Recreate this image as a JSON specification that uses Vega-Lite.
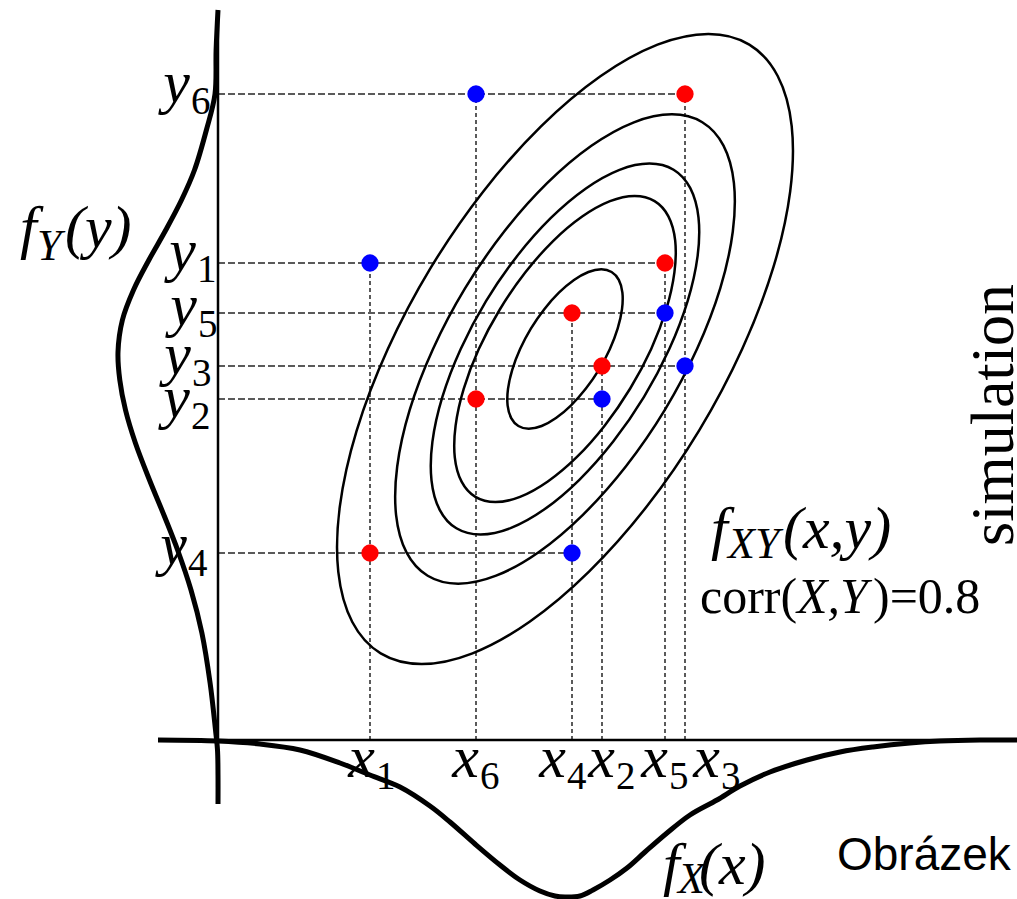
{
"$schema": "https://vega.github.io/schema/vega-lite/v6.json",
"width": 1017, "height": 899, "autosize": {"type": "none"}, "padding": 0,
"background": "white",
"config": {"view": {"stroke": null}},
"datasets": {
"ell": [
{"e":1,"i":0,"x":393.6,"y":468.0},{"e":1,"i":1,"x":383.3,"y":470.7},{"e":1,"i":2,"x":370.4,"y":468.0},{"e":1,"i":3,"x":356.0,"y":460.0},{"e":1,"i":4,"x":340.9,"y":447.3},{"e":1,"i":5,"x":326.3,"y":430.8},{"e":1,"i":6,"x":313.0,"y":411.6},{"e":1,"i":7,"x":302.1,"y":390.9},{"e":1,"i":8,"x":294.3,"y":370.3},{"e":1,"i":9,"x":290.0,"y":351.1},{"e":1,"i":10,"x":289.6,"y":334.6},{"e":1,"i":11,"x":293.2,"y":321.9},{"e":1,"i":12,"x":300.4,"y":314.0},{"e":1,"i":13,"x":310.7,"y":311.3},{"e":1,"i":14,"x":323.6,"y":314.0},{"e":1,"i":15,"x":338.0,"y":322.0},{"e":1,"i":16,"x":353.1,"y":334.7},{"e":1,"i":17,"x":367.7,"y":351.2},{"e":1,"i":18,"x":381.0,"y":370.4},{"e":1,"i":19,"x":391.9,"y":391.1},{"e":1,"i":20,"x":399.7,"y":411.7},{"e":1,"i":21,"x":404.0,"y":430.9},{"e":1,"i":22,"x":404.4,"y":447.4},{"e":1,"i":23,"x":400.8,"y":460.1},
{"e":2,"i":0,"x":436.6,"y":538.9},{"e":2,"i":1,"x":416.6,"y":544.1},{"e":2,"i":2,"x":392.0,"y":538.9},{"e":2,"i":3,"x":364.2,"y":523.5},{"e":2,"i":4,"x":335.3,"y":499.2},{"e":2,"i":5,"x":307.2,"y":467.4},{"e":2,"i":6,"x":281.8,"y":430.5},{"e":2,"i":7,"x":260.8,"y":390.9},{"e":2,"i":8,"x":245.7,"y":351.2},{"e":2,"i":9,"x":237.6,"y":314.4},{"e":2,"i":10,"x":236.8,"y":282.7},{"e":2,"i":11,"x":243.6,"y":258.3},{"e":2,"i":12,"x":257.4,"y":243.1},{"e":2,"i":13,"x":277.4,"y":237.9},{"e":2,"i":14,"x":302.0,"y":243.1},{"e":2,"i":15,"x":329.8,"y":258.5},{"e":2,"i":16,"x":358.7,"y":282.8},{"e":2,"i":17,"x":386.8,"y":314.6},{"e":2,"i":18,"x":412.2,"y":351.5},{"e":2,"i":19,"x":433.2,"y":391.1},{"e":2,"i":20,"x":448.3,"y":430.8},{"e":2,"i":21,"x":456.4,"y":467.6},{"e":2,"i":22,"x":457.2,"y":499.3},{"e":2,"i":23,"x":450.4,"y":523.7},
{"e":3,"i":0,"x":455.6,"y":570.3},{"e":3,"i":1,"x":431.4,"y":576.5},{"e":3,"i":2,"x":401.5,"y":570.2},{"e":3,"i":3,"x":367.9,"y":551.6},{"e":3,"i":4,"x":332.9,"y":522.1},{"e":3,"i":5,"x":298.8,"y":483.6},{"e":3,"i":6,"x":268.0,"y":438.9},{"e":3,"i":7,"x":242.6,"y":390.8},{"e":3,"i":8,"x":224.3,"y":342.8},{"e":3,"i":9,"x":214.4,"y":298.1},{"e":3,"i":10,"x":213.5,"y":259.7},{"e":3,"i":11,"x":221.7,"y":230.2},{"e":3,"i":12,"x":238.4,"y":211.7},{"e":3,"i":13,"x":262.6,"y":205.5},{"e":3,"i":14,"x":292.5,"y":211.8},{"e":3,"i":15,"x":326.1,"y":230.4},{"e":3,"i":16,"x":361.1,"y":259.9},{"e":3,"i":17,"x":395.2,"y":298.4},{"e":3,"i":18,"x":426.0,"y":343.1},{"e":3,"i":19,"x":451.4,"y":391.2},{"e":3,"i":20,"x":469.7,"y":439.2},{"e":3,"i":21,"x":479.6,"y":483.9},{"e":3,"i":22,"x":480.5,"y":522.3},{"e":3,"i":23,"x":472.3,"y":551.8},
{"e":4,"i":0,"x":484.3,"y":617.8},{"e":4,"i":1,"x":453.8,"y":625.7},{"e":4,"i":2,"x":415.9,"y":617.7},{"e":4,"i":3,"x":373.4,"y":594.2},{"e":4,"i":4,"x":329.1,"y":556.8},{"e":4,"i":5,"x":286.0,"y":508.2},{"e":4,"i":6,"x":247.0,"y":451.6},{"e":4,"i":7,"x":214.9,"y":390.8},{"e":4,"i":8,"x":191.7,"y":330.1},{"e":4,"i":9,"x":179.2,"y":273.5},{"e":4,"i":10,"x":178.1,"y":224.9},{"e":4,"i":11,"x":188.5,"y":187.6},{"e":4,"i":12,"x":209.7,"y":164.2},{"e":4,"i":13,"x":240.2,"y":156.3},{"e":4,"i":14,"x":278.1,"y":164.3},{"e":4,"i":15,"x":320.6,"y":187.8},{"e":4,"i":16,"x":364.9,"y":225.2},{"e":4,"i":17,"x":408.0,"y":273.8},{"e":4,"i":18,"x":447.0,"y":330.4},{"e":4,"i":19,"x":479.1,"y":391.2},{"e":4,"i":20,"x":502.3,"y":451.9},{"e":4,"i":21,"x":514.8,"y":508.5},{"e":4,"i":22,"x":515.9,"y":557.1},{"e":4,"i":23,"x":505.5,"y":594.4},
{"e":5,"i":0,"x":531.3,"y":695.4},{"e":5,"i":1,"x":490.3,"y":706.0},{"e":5,"i":2,"x":439.5,"y":695.3},{"e":5,"i":3,"x":382.4,"y":663.7},{"e":5,"i":4,"x":323.0,"y":613.6},{"e":5,"i":5,"x":265.1,"y":548.3},{"e":5,"i":6,"x":212.8,"y":472.3},{"e":5,"i":7,"x":169.7,"y":390.7},{"e":5,"i":8,"x":138.6,"y":309.2},{"e":5,"i":9,"x":121.8,"y":233.3},{"e":5,"i":10,"x":120.3,"y":168.1},{"e":5,"i":11,"x":134.3,"y":118.0},{"e":5,"i":12,"x":162.7,"y":86.6},{"e":5,"i":13,"x":203.7,"y":76.0},{"e":5,"i":14,"x":254.5,"y":86.7},{"e":5,"i":15,"x":311.6,"y":118.3},{"e":5,"i":16,"x":371.0,"y":168.4},{"e":5,"i":17,"x":428.9,"y":233.7},{"e":5,"i":18,"x":481.2,"y":309.7},{"e":5,"i":19,"x":524.3,"y":391.3},{"e":5,"i":20,"x":555.4,"y":472.8},{"e":5,"i":21,"x":572.2,"y":548.7},{"e":5,"i":22,"x":573.7,"y":613.9},{"e":5,"i":23,"x":559.7,"y":664.0}
],
"rulesH": [{"x":0,"x2":467,"y":646},{"x":0,"x2":447,"y":477},{"x":0,"x2":447,"y":427},{"x":0,"x2":467,"y":374},{"x":0,"x2":384,"y":341},{"x":0,"x2":354,"y":187}],
"rulesV": [{"x":152,"y":0,"y2":477},{"x":258,"y":0,"y2":646},{"x":354,"y":0,"y2":427},{"x":384,"y":0,"y2":374},{"x":447,"y":0,"y2":477},{"x":467,"y":0,"y2":646}],
"axes": [{"x":0,"y":0,"x2":0,"y2":730},{"x":0,"y":0,"x2":799,"y2":0}],
"fy": [{"x":0,"y":730},{"x":-1.9,"y":690},{"x":-3,"y":646},{"x":-11.6,"y":610},{"x":-23.5,"y":570},{"x":-36.5,"y":540},{"x":-52.2,"y":510},{"x":-69.1,"y":480},{"x":-84.5,"y":450},{"x":-95.6,"y":420},{"x":-100,"y":388},{"x":-98.2,"y":360},{"x":-92.5,"y":330},{"x":-82.6,"y":297},{"x":-68.5,"y":260},{"x":-53.3,"y":223},{"x":-40.4,"y":190},{"x":-27,"y":150},{"x":-16.1,"y":107},{"x":-7.9,"y":57},{"x":-2.5,"y":10},{"x":-0.5,"y":-10},{"x":0,"y":-35},{"x":0,"y":-64}],
"fx": [{"x":-60,"y":0},{"x":0,"y":-1},{"x":42,"y":-4},{"x":82,"y":-10},{"x":122,"y":-23},{"x":152,"y":-35},{"x":182,"y":-47},{"x":212,"y":-66},{"x":232,"y":-82},{"x":257,"y":-104},{"x":282,"y":-125},{"x":302,"y":-140},{"x":322,"y":-151},{"x":337,"y":-156},{"x":347,"y":-157},{"x":362,"y":-156},{"x":375,"y":-150},{"x":392,"y":-140},{"x":409,"y":-128},{"x":427,"y":-112},{"x":449,"y":-93},{"x":472,"y":-75},{"x":499,"y":-60},{"x":522,"y":-46},{"x":552,"y":-32},{"x":589,"y":-20},{"x":622,"y":-12},{"x":655,"y":-7},{"x":692,"y":-3},{"x":722,"y":-1},{"x":762,"y":0},{"x":799,"y":0}],
"pts": [{"x":258,"y":646,"c":"b"},{"x":467,"y":646,"c":"r"},{"x":152,"y":477,"c":"b"},{"x":447,"y":477,"c":"r"},{"x":354,"y":427,"c":"r"},{"x":447,"y":427,"c":"b"},{"x":384,"y":374,"c":"r"},{"x":467,"y":374,"c":"b"},{"x":258,"y":341,"c":"r"},{"x":384,"y":341,"c":"b"},{"x":152,"y":187,"c":"r"},{"x":354,"y":187,"c":"b"}],
"lab": [{"v":"x","n":"1","x":157,"y":-37},{"v":"x","n":"6","x":261,"y":-37},{"v":"x","n":"4","x":348,"y":-37},{"v":"x","n":"2","x":397,"y":-37},{"v":"x","n":"5","x":450,"y":-37},{"v":"x","n":"3","x":502,"y":-37},
{"v":"y","n":"6","x":-28,"y":638},{"v":"y","n":"1","x":-22,"y":470},{"v":"y","n":"5","x":-21,"y":415},{"v":"y","n":"3","x":-27,"y":366},{"v":"y","n":"2","x":-28,"y":323},{"v":"y","n":"4","x":-31,"y":176}],
"bigit": [{"t":"f","x":-198,"y":493},{"t":"(y)","x":-153,"y":493},{"t":"f","x":493,"y":192},{"t":"(x,y)","x":565,"y":192},{"t":"f","x":445,"y":-144},{"t":"(x)","x":481,"y":-144}],
"subit": [{"t":"Y","x":-181,"y":480},{"t":"XY","x":510,"y":182},{"t":"X","x":460,"y":-153}],
"corrup": [{"t":"corr(","x":482,"y":127},{"t":")=0.8","x":655,"y":127}],
"corrit": [{"t":"X,Y","x":579,"y":127}],
"sim": [{"t":"simulation","x":795,"y":325}],
"obr": [{"t":"Obrázek","x":619,"y":-130}]
},
"encoding": {
"x": {"field":"x","type":"quantitative","scale":{"domain":[-218,799],"nice":false,"zero":false},"axis":null},
"y": {"field":"y","type":"quantitative","scale":{"domain":[-159,740],"nice":false,"zero":false},"axis":null}
},
"layer": [
{"data":{"name":"rulesH"},"mark":{"type":"rule","stroke":"#5a5a5a","strokeWidth":2,"strokeDash":[7,3]},"encoding":{"x2":{"field":"x2"}}},
{"data":{"name":"rulesV"},"mark":{"type":"rule","stroke":"#5a5a5a","strokeWidth":2,"strokeDash":[4,3]},"encoding":{"y2":{"field":"y2"}}},
{"data":{"name":"axes"},"mark":{"type":"rule","stroke":"black","strokeWidth":2.5},"encoding":{"x2":{"field":"x2"},"y2":{"field":"y2"}}},
{"data":{"name":"fy"},"mark":{"type":"line","stroke":"black","strokeWidth":5,"interpolate":"catmull-rom"},"encoding":{"order":{"field":"y","type":"quantitative"}}},
{"data":{"name":"fx"},"mark":{"type":"line","stroke":"black","strokeWidth":5,"interpolate":"catmull-rom"},"encoding":{"order":{"field":"x","type":"quantitative"}}},
{"data":{"name":"ell"},"mark":{"type":"line","stroke":"black","strokeWidth":2.5,"interpolate":"cardinal-closed"},"encoding":{"detail":{"field":"e"},"order":{"field":"i","type":"quantitative"}}},
{"data":{"name":"pts"},"mark":{"type":"point","filled":true,"size":300,"opacity":1},"encoding":{"color":{"field":"c","type":"nominal","scale":{"domain":["b","r"],"range":["#0000ff","#ff0000"]},"legend":null}}},
{"data":{"name":"lab"},"mark":{"type":"text","font":"Liberation Serif","fontStyle":"italic","fontSize":60,"align":"right","baseline":"alphabetic","color":"black"},"encoding":{"text":{"field":"v"}}},
{"data":{"name":"lab"},"mark":{"type":"text","font":"Liberation Serif","fontSize":39,"align":"left","baseline":"alphabetic","dx":1,"dy":12,"color":"black"},"encoding":{"text":{"field":"n"}}},
{"data":{"name":"bigit"},"mark":{"type":"text","font":"Liberation Serif","fontStyle":"italic","fontSize":60,"align":"left","baseline":"alphabetic","color":"black"},"encoding":{"text":{"field":"t"}}},
{"data":{"name":"subit"},"mark":{"type":"text","font":"Liberation Serif","fontStyle":"italic","fontSize":44,"align":"left","baseline":"alphabetic","color":"black"},"encoding":{"text":{"field":"t"}}},
{"data":{"name":"corrup"},"mark":{"type":"text","font":"Liberation Serif","fontSize":50,"align":"left","baseline":"alphabetic","color":"black"},"encoding":{"text":{"field":"t"}}},
{"data":{"name":"corrit"},"mark":{"type":"text","font":"Liberation Serif","fontStyle":"italic","fontSize":50,"align":"left","baseline":"alphabetic","color":"black"},"encoding":{"text":{"field":"t"}}},
{"data":{"name":"sim"},"mark":{"type":"text","font":"Liberation Serif","fontSize":62,"align":"center","baseline":"alphabetic","angle":270,"color":"black"},"encoding":{"text":{"field":"t"}}},
{"data":{"name":"obr"},"mark":{"type":"text","font":"Liberation Sans","fontSize":46,"align":"left","baseline":"alphabetic","color":"black"},"encoding":{"text":{"field":"t"}}}
]
}
